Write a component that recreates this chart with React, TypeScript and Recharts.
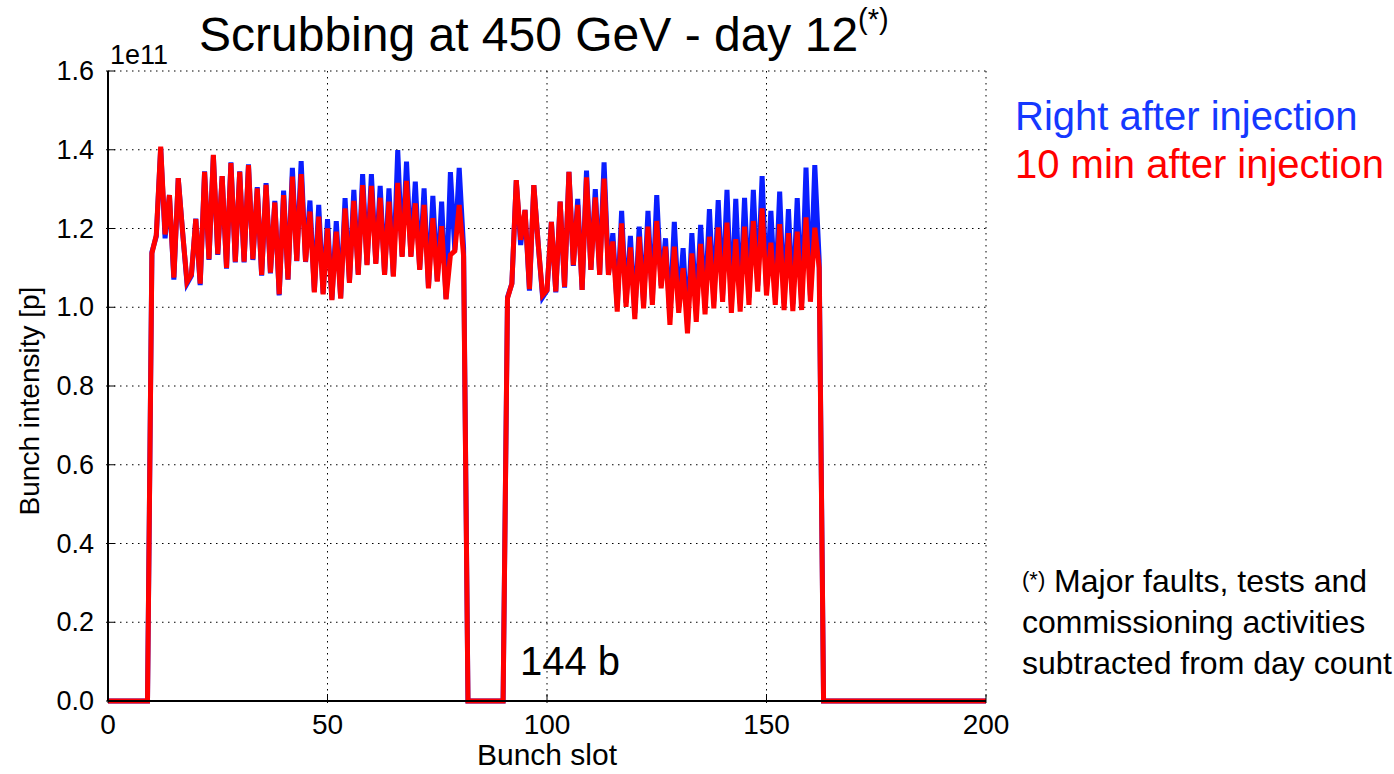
import React from 'react';
import { LineChart, Line, XAxis, YAxis, CartesianGrid } from 'recharts';

// bunch intensity in units of 1e11 p, read slot by slot
const TRAIN1_START = 10;
const TRAIN2_START = 91;
const LAST_SLOT = 200;

const train1Right = [
  1.14, 1.18, 1.405, 1.175, 1.285, 1.07, 1.328, 1.19, 1.06, 1.08,
  1.225, 1.056, 1.345, 1.12, 1.385, 1.133, 1.333, 1.098, 1.368, 1.114,
  1.345, 1.114, 1.363, 1.12, 1.305, 1.08, 1.315, 1.086, 1.27, 1.03,
  1.296, 1.07, 1.354, 1.117, 1.371, 1.115, 1.271, 1.04, 1.26, 1.035,
  1.224, 1.02, 1.219, 1.024, 1.277, 1.064, 1.298, 1.084, 1.338, 1.109,
  1.338, 1.112, 1.308, 1.084, 1.302, 1.08, 1.399, 1.13, 1.37, 1.13,
  1.319, 1.097, 1.302, 1.05, 1.283, 1.067, 1.268, 1.022, 1.343, 1.145,
  1.354, 1.15,
];
const train1Later = [
  1.137, 1.183, 1.408, 1.185, 1.285, 1.075, 1.328, 1.19, 1.064, 1.083,
  1.224, 1.06, 1.344, 1.122, 1.387, 1.135, 1.333, 1.1, 1.366, 1.116,
  1.344, 1.116, 1.361, 1.122, 1.302, 1.082, 1.311, 1.088, 1.266, 1.033,
  1.285, 1.071, 1.332, 1.118, 1.338, 1.116, 1.243, 1.038, 1.23, 1.033,
  1.2, 1.018, 1.192, 1.022, 1.251, 1.062, 1.27, 1.082, 1.31, 1.107,
  1.308, 1.11, 1.278, 1.082, 1.268, 1.078, 1.316, 1.128, 1.321, 1.128,
  1.264, 1.095, 1.26, 1.048, 1.226, 1.065, 1.206, 1.02, 1.133, 1.143,
  1.26, 1.13,
];
const train2Right = [
  1.025, 1.06, 1.322, 1.158, 1.247, 1.042, 1.31, 1.16, 1.025, 1.042,
  1.217, 1.038, 1.268, 1.05, 1.344, 1.105, 1.275, 1.044, 1.347, 1.095,
  1.3, 1.083, 1.368, 1.085, 1.188, 1.0, 1.245, 1.012, 1.181, 0.985,
  1.205, 1.01, 1.245, 1.02, 1.285, 1.055, 1.175, 0.975, 1.217, 1.0,
  1.15, 0.955, 1.188, 0.99, 1.209, 1.0, 1.249, 1.015, 1.272, 1.03,
  1.298, 1.005, 1.275, 1.01, 1.278, 1.025, 1.298, 1.055, 1.333, 1.05,
  1.245, 1.025, 1.294, 1.01, 1.249, 1.008, 1.277, 1.01, 1.355, 1.03,
  1.361, 1.12,
];
const train2Later = [
  1.023, 1.06, 1.323, 1.171, 1.247, 1.046, 1.31, 1.16, 1.031, 1.044,
  1.217, 1.04, 1.268, 1.052, 1.344, 1.107, 1.26, 1.044, 1.33, 1.095,
  1.279, 1.082, 1.327, 1.082, 1.167, 0.989, 1.213, 1.001, 1.152, 0.97,
  1.179, 0.997, 1.205, 1.006, 1.219, 1.048, 1.154, 0.955, 1.154, 0.986,
  1.099, 0.934, 1.137, 0.963, 1.161, 0.982, 1.179, 0.997, 1.203, 1.014,
  1.215, 0.986, 1.173, 0.989, 1.205, 1.006, 1.219, 1.04, 1.251, 1.03,
  1.164, 1.006, 1.211, 0.993, 1.188, 0.99, 1.192, 0.993, 1.228, 1.014,
  1.202, 1.1,
];

const xTicks = [0, 50, 100, 150, 200];
const yTicks = [0, 0.2, 0.4, 0.6, 0.8, 1.0, 1.2, 1.4, 1.6];

const valueAt = (slot: number, t1: number[], t2: number[]) => {
  if (slot >= TRAIN1_START && slot < TRAIN1_START + t1.length) return t1[slot - TRAIN1_START];
  if (slot >= TRAIN2_START && slot < TRAIN2_START + t2.length) return t2[slot - TRAIN2_START];
  return 0;
};

const data = Array.from({ length: LAST_SLOT + 1 }, (_, slot) => ({
  slot,
  right: valueAt(slot, train1Right, train2Right),
  later: valueAt(slot, train1Later, train2Later),
}));

const FONT = "'Liberation Sans', Arial, sans-serif";
const BLUE_LINE = '#0a1eff';
const BLUE_TEXT = '#1538ff';
const RED = '#ff0000';
const TICK_LEN = 9;

const BottomTick = (props: any) => {
  const { x, y, payload } = props;
  return (
    <g>
      <line x1={x} x2={x} y1={y} y2={y - TICK_LEN} stroke="#000" strokeWidth={1} />
      <text x={x} y={y + 31} textAnchor="middle" fontSize={28} fontFamily={FONT} fill="#000">
        {payload.value}
      </text>
    </g>
  );
};

const TopTick = (props: any) => {
  const { x, y } = props;
  return <line x1={x} x2={x} y1={y} y2={y + TICK_LEN} stroke="#000" strokeWidth={1} />;
};

const LeftTick = (props: any) => {
  const { x, y, payload } = props;
  return (
    <g>
      <line x1={x} x2={x + TICK_LEN} y1={y} y2={y} stroke="#000" strokeWidth={1} />
      <text x={x - 12} y={y + 9} textAnchor="end" fontSize={27} fontFamily={FONT} fill="#000">
        {Number(payload.value).toFixed(1)}
      </text>
    </g>
  );
};

const RightTick = (props: any) => {
  const { x, y } = props;
  return <line x1={x} x2={x - TICK_LEN} y1={y} y2={y} stroke="#000" strokeWidth={1} />;
};

const frame = { stroke: '#000', strokeWidth: 2 };

export default function App() {
  const text = (style: React.CSSProperties, children: React.ReactNode) => (
    <div style={{ position: 'absolute', fontFamily: FONT, whiteSpace: 'nowrap', lineHeight: 1, ...style }}>
      {children}
    </div>
  );

  return (
    <div
      style={{
        position: 'absolute',
        left: 0,
        top: 0,
        width: 1394,
        height: 774,
        overflow: 'hidden',
        background: '#fff',
      }}
    >
      <LineChart
        width={1040}
        height={774}
        data={data}
        margin={{ top: 71, right: 54, bottom: 0, left: 48 }}
      >
        <CartesianGrid stroke="#000" strokeWidth={1} strokeDasharray="1.5 4.5" />
        <XAxis
          dataKey="slot"
          type="number"
          domain={[0, 200]}
          ticks={xTicks}
          interval={0}
          height={73}
          axisLine={frame}
          tickLine={false}
          tickSize={0}
          tick={<BottomTick />}
        />
        <XAxis
          xAxisId="top"
          orientation="top"
          dataKey="slot"
          type="number"
          domain={[0, 200]}
          ticks={xTicks}
          interval={0}
          height={0}
          axisLine={frame}
          tickLine={false}
          tickSize={0}
          tick={<TopTick />}
        />
        <YAxis
          type="number"
          domain={[0, 1.6]}
          ticks={yTicks}
          interval={0}
          width={60}
          axisLine={frame}
          tickLine={false}
          tickSize={0}
          tick={<LeftTick />}
        />
        <YAxis
          yAxisId="right"
          orientation="right"
          type="number"
          domain={[0, 1.6]}
          ticks={yTicks}
          interval={0}
          width={0}
          axisLine={frame}
          tickLine={false}
          tickSize={0}
          tick={<RightTick />}
        />
        <Line
          type="linear"
          dataKey="right"
          stroke={BLUE_LINE}
          strokeWidth={5}
          dot={false}
          isAnimationActive={false}
        />
        <Line
          type="linear"
          dataKey="later"
          stroke={RED}
          strokeWidth={5}
          dot={false}
          isAnimationActive={false}
        />
      </LineChart>

      {text({ left: 199, top: 11, fontSize: 48, color: '#000' }, (
        <>
          Scrubbing at 450 GeV - day 12
          <span style={{ fontSize: 29, verticalAlign: 'top', position: 'relative', top: -6 }}>(*)</span>
        </>
      ))}
      {text({ left: 110, top: 42, fontSize: 27, color: '#000' }, '1e11')}
      {text({ left: 1015, top: 96, fontSize: 40, color: BLUE_TEXT }, 'Right after injection')}
      {text({ left: 1015, top: 144, fontSize: 40, color: RED }, '10 min after injection')}
      {text({ left: 520, top: 641, fontSize: 40, color: '#000' }, '144 b')}
      {text({ left: 547, top: 740, fontSize: 30, color: '#000', transform: 'translateX(-50%)' }, 'Bunch slot')}
      {text(
        {
          left: 30,
          top: 401,
          fontSize: 28,
          color: '#000',
          transform: 'translate(-50%, -50%) rotate(-90deg)',
        },
        'Bunch intensity [p]'
      )}
      {text({ left: 1022, top: 561, fontSize: 32, color: '#000', lineHeight: '41px' }, (
        <>
          <span style={{ fontSize: 22, verticalAlign: 'top', position: 'relative', top: -2 }}>(*)</span>{' '}
          Major faults, tests and
          <br />
          commissioning activities
          <br />
          subtracted from day count
        </>
      ))}
    </div>
  );
}
